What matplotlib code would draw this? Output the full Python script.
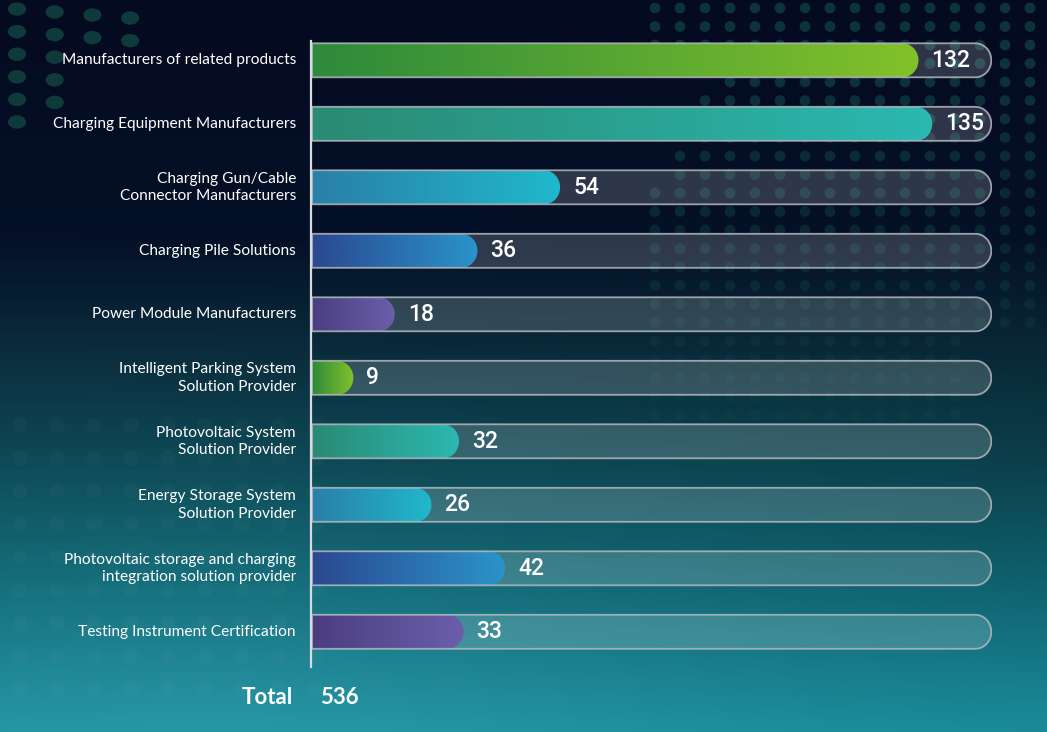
import numpy as np
import matplotlib
matplotlib.use("Agg")
import matplotlib.pyplot as plt
from matplotlib.path import Path
from matplotlib.patches import PathPatch
from matplotlib.colors import to_rgb, LinearSegmentedColormap

# ---------------- data ----------------
categories = [
    "Manufacturers of related products",
    "Charging Equipment Manufacturers",
    "Charging Gun/Cable\nConnector Manufacturers",
    "Charging Pile Solutions",
    "Power Module Manufacturers",
    "Intelligent Parking System\nSolution Provider",
    "Photovoltaic System\nSolution Provider",
    "Energy Storage System\nSolution Provider",
    "Photovoltaic storage and charging\nintegration solution provider",
    "Testing Instrument Certification",
]
values = [132, 135, 54, 36, 18, 9, 32, 26, 42, 33]
total_label = "Total"
total_value = 536
track_max = 148

# gradient colours (left -> right), cycling every five bars
palette = [
    ("#2d8a3b", "#82c12a"),
    ("#2a8a73", "#2bb9b1"),
    ("#2a7fa8", "#20b8cc"),
    ("#2a4890", "#2a94ca"),
    ("#4a3d80", "#6b5fab"),
]

W, H, DPI = 1047, 732, 100
fig = plt.figure(figsize=(W / DPI, H / DPI), dpi=DPI)

# ---------------- background ----------------
bg = fig.add_axes([0, 0, 1, 1])
bg.set_xlim(0, W)
bg.set_ylim(H, 0)
bg.axis("off")

stops_y = [0.0, 0.33, 0.48, 0.63, 0.80, 1.0]
stops_c = ["#040a20", "#051128", "#0a2c3c", "#0c4855", "#0f6875", "#1a8b9b"]
yy = np.linspace(0, 1, H)
cols = np.array([to_rgb(c) for c in stops_c])
vert = np.stack([np.interp(yy, stops_y, cols[:, k]) for k in range(3)], axis=1)
xx = np.linspace(0, 1, W)
img = np.repeat(vert[:, None, :], W, axis=1)
shade = 1.0 - 0.12 * (xx[None, :] ** 1.5) * np.exp(-((yy[:, None] - 0.6) / 0.25) ** 2)
glow = 0.05 * np.exp(-(((xx[None, :] - 0.2) / 0.5) ** 2 + ((yy[:, None] - 1.0) / 0.3) ** 2))
img = np.clip(img * shade[:, :, None] + glow[:, :, None], 0, 1)
bg.imshow(img, extent=[0, W, H, 0], aspect="auto", zorder=0)

# decorative dot pattern, top right
gx = np.arange(655, W + 20, 25)
gy = np.arange(8, 425, 18.5)
DX, DY = np.meshgrid(gx, gy)
sel = (DX + 0.55 * DY > 760) | (DY < 60)
sel &= ~((DY > 330) & (DX > 970))
fade = np.clip(1.1 - DY / 430, 0.25, 1.0)
rgba = np.zeros((sel.sum(), 4))
rgba[:, :3] = to_rgb("#1b6e60")
rgba[:, 3] = 0.42 * fade[sel]
bg.scatter(DX[sel], DY[sel], s=60, c=rgba, edgecolors="none", zorder=1)

# top-left cluster
tl_counts = [4, 4, 2, 2, 2, 1]
tl_x, tl_y = [], []
for j, n in enumerate(tl_counts):
    for k in range(n):
        tl_x.append(17 + 37.7 * k)
        tl_y.append(9 + 22.6 * j + 3 * k)
ell = Path.unit_circle().transformed(matplotlib.transforms.Affine2D().scale(1.35, 1.0))
bg.scatter(tl_x, tl_y, s=170, marker=ell, color="#0f3a3c", edgecolors="none", zorder=1)

# faint dots bottom-left
bx = np.arange(20, 330, 37)
by = np.arange(425, 720, 33)
BX, BY = np.meshgrid(bx, by)
bg.scatter(BX.ravel(), BY.ravel(), s=120, color="#ffffff", alpha=0.025,
           edgecolors="none", zorder=1)

# ---------------- main axes ----------------
row_px = 63.5
top_px = 60.3 - row_px / 2
bot_px = top_px + row_px * len(values)
x0_px, x1_px = 312, 992
ax = fig.add_axes([x0_px / W, 1 - bot_px / H, (x1_px - x0_px) / W, (bot_px - top_px) / H])
ax.set_xlim(0, track_max)
ax.set_ylim(len(values) - 0.5, -0.5)
ax.axis("off")
ax.patch.set_alpha(0)

sx = (x1_px - x0_px) / track_max  # px per value unit
bar_h_px = 34
bh = bar_h_px / row_px
r_px = 16


def right_round_path(xend, yc):
    rx = r_px / sx
    ry = bh / 2
    yt, yb = yc - ry, yc + ry
    t = np.linspace(-np.pi / 2, np.pi / 2, 40)
    arc_x = (xend - rx) + rx * np.cos(t)
    arc_y = yc + ry * np.sin(t)
    verts = [(0, yt)] + list(zip(arc_x, arc_y)) + [(0, yb), (0, yt)]
    codes = [Path.MOVETO] + [Path.LINETO] * (len(verts) - 2) + [Path.CLOSEPOLY]
    return Path(verts, codes)


for i, (cat, v) in enumerate(zip(categories, values)):
    tp = right_round_path(track_max - 0.15, i)
    ax.add_patch(PathPatch(tp, facecolor="white", alpha=0.17, edgecolor="none", zorder=2))
    c0, c1 = palette[i % len(palette)]
    cmap = LinearSegmentedColormap.from_list(f"g{i}", [c0, c1])
    bp = right_round_path(v, i)
    patch = PathPatch(bp, facecolor="none", edgecolor="none", zorder=3)
    ax.add_patch(patch)
    grad = np.linspace(0, 1, 256)[None, :]
    im = ax.imshow(grad, cmap=cmap, extent=[0, v, i + bh / 2, i - bh / 2],
                   aspect="auto", zorder=3, interpolation="bilinear")
    im.set_clip_path(patch)
    ax.add_patch(PathPatch(tp, facecolor="none", edgecolor="#b4b8bf", lw=1.3,
                           alpha=0.85, zorder=4))
    ax.annotate(str(v), xy=(v, i), xytext=(13 * 0.72, 0), textcoords="offset points",
                ha="left", va="center", color="white", fontsize=16.5,
                fontfamily="Roboto", fontweight="medium", zorder=5)
    fig.text(296 / W, 1 - (60.3 + i * row_px) / H, cat, ha="right", va="center",
             color="white", fontsize=11.2, fontfamily="Lato", linespacing=1.32)

ax.set_xlim(0, track_max)
ax.set_ylim(len(values) - 0.5, -0.5)

# vertical axis line
fig.add_artist(plt.Line2D([311 / W, 311 / W], [1 - 41 / H, 1 - 667 / H],
                          color="#d8dadf", lw=1.6))

# total
fig.text(293 / W, 1 - 697 / H, total_label, ha="right", va="center", color="white",
         fontsize=16, fontfamily="Lato", fontweight="bold")
fig.text(320 / W, 1 - 697 / H, str(total_value), ha="left", va="center", color="white",
         fontsize=16, fontfamily="Lato", fontweight="bold")

fig.savefig("out.png", dpi=DPI)
